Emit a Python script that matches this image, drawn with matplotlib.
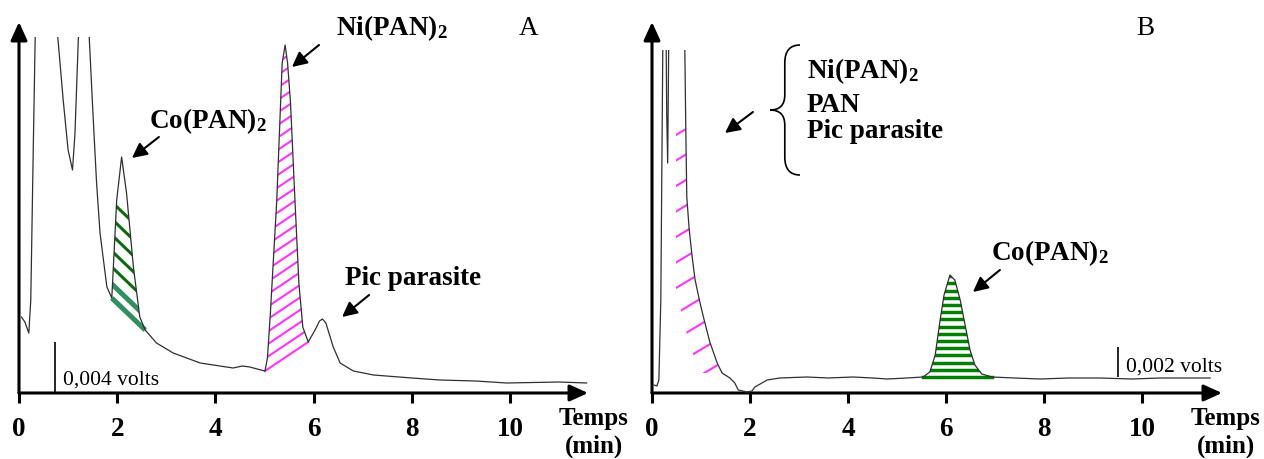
import matplotlib
matplotlib.use('Agg')
import matplotlib.pyplot as plt
import numpy as np
from matplotlib.patches import Rectangle, PathPatch
from matplotlib.path import Path

plt.rcParams['font.family'] = ['Liberation Serif', 'DejaVu Serif']
plt.rcParams['mathtext.fontset'] = 'custom'
plt.rcParams['mathtext.rm'] = 'Liberation Serif:bold'
plt.rcParams['mathtext.it'] = 'Liberation Serif:bold'
plt.rcParams['mathtext.bf'] = 'Liberation Serif:bold'

# chromatogram A (time in min, signal in arbitrary units)
time_a = [0.05, 0.12, 0.20, 0.24, 0.29, 0.33, 0.36, 0.55, 0.76, 0.79, 0.90, 1.00,
          1.09, 1.14, 1.21, 1.23, 1.32, 1.41, 1.43, 1.51, 1.58, 1.65, 1.79, 1.89,
          1.99, 2.09, 2.19, 2.33, 2.46, 2.57, 2.80, 3.14, 3.69, 4.36, 4.55, 4.70,
          4.85, 5.01, 5.06, 5.12, 5.25, 5.36, 5.42, 5.47, 5.53, 5.62, 5.70, 5.78,
          5.89, 6.03, 6.12, 6.18, 6.25, 6.40, 6.54, 6.81, 7.22, 8.00, 8.57, 9.30,
          9.93, 11.00, 11.56]
signal_a = [76, 71, 60, 93, 243, 356, 420, 600, 420, 356, 293, 243,
            223, 260, 356, 420, 600, 420, 356, 276, 210, 160, 106, 95,
            193, 236, 200, 126, 76, 63, 50, 40, 30, 25, 27, 26,
            24, 22, 35, 80, 193, 330, 348, 330, 290, 193, 110, 66,
            51, 63, 72, 74, 70, 46, 30, 22, 18, 15, 13, 12,
            10, 11, 10]

# chromatogram B
time_b = [0.04, 0.10, 0.14, 0.18, 0.22, 0.24, 0.27, 0.29, 0.30, 0.32, 0.34, 0.35,
          0.50, 0.66, 0.67, 0.69, 0.71, 0.76, 0.82, 0.88, 0.98, 1.08, 1.18, 1.33,
          1.43, 1.59, 1.69, 1.76, 1.94, 2.04, 2.10, 2.35, 2.61, 3.16, 3.60, 4.10,
          4.51, 4.80, 5.20, 5.53, 5.67, 5.78, 5.88, 5.96, 6.08, 6.18, 6.29, 6.39,
          6.49, 6.59, 6.73, 6.94, 7.40, 7.92, 8.50, 9.14, 9.80, 10.37, 11.39]
signal_b = [8, 7, 13, 93, 343, 420, 420, 343, 280, 230, 343, 420,
            600, 420, 343, 263, 196, 163, 136, 113, 90, 70, 51, 30,
            20, 15, 10, 3, 1, 2, 6, 13, 15, 16, 15, 16,
            15, 14, 15, 16, 21, 38, 73, 98, 118, 113, 93, 68,
            43, 28, 19, 16, 15, 14, 15, 15, 14, 15, 15]

ticks = [0, 2, 4, 6, 8, 10]
tick_labels = ['0', '2', '4', '6', '8', '10']

# integrated peaks (start, end) in min
co_peak_a = (1.89, 2.57)
ni_peak_a = (5.01, 5.89)
co_peak_b = (5.53, 6.94)
front_b = (0.67, 1.59)

INK = '#303030'
PINK = '#ff33ff'
DARKGREEN = '#0b6b0b'
SEAGREEN = '#2f9060'
GREEN = '#008000'

fig = plt.figure(figsize=(12.64, 4.59), dpi=100)
W, H = 1264.0, 459.0
ax_a = fig.add_axes([19 / W, 66 / H, 569 / W, 371 / H])
ax_b = fig.add_axes([652 / W, 66 / H, 570 / W, 371 / H])


def setup(ax, xmax):
    ax.set_xlim(0, xmax)
    ax.set_ylim(0, 371)
    ax.patch.set_visible(False)
    for sp in ax.spines.values():
        sp.set_visible(False)
    ax.set_yticks([])
    ax.set_xticks(ticks)
    ax.set_xticklabels(tick_labels, fontsize=19.5, fontweight='bold')
    ax.tick_params(axis='x', direction='out', length=7.5, width=2.2, pad=10)
    arrow = dict(arrowstyle='-|>,head_length=0.55,head_width=0.25', lw=2.2,
                 color='black', shrinkA=0, shrinkB=0, mutation_scale=20)
    ax.annotate('', xy=(1, 0), xytext=(0, 0), xycoords='axes fraction',
                arrowprops=arrow, annotation_clip=False)
    ax.annotate('', xy=(0, 1), xytext=(0, 0), xycoords='axes fraction',
                arrowprops=arrow, annotation_clip=False)


def trace(ax, t, s, top):
    ln, = ax.plot(t, s, color=INK, lw=0.9, zorder=5)
    ln.set_clip_path(Rectangle((-1, -10), 20, top + 10, transform=ax.transData))


def peak_path(t, s, t0, t1):
    t = np.asarray(t)
    s = np.asarray(s)
    m = (t >= t0) & (t <= t1)
    verts = np.column_stack([t[m], s[m]])
    verts = np.vstack([verts, verts[:1]])
    return Path(verts), verts[0], verts[-2]


def hatch(ax, path, p0, slope, offsets, t0, t1, **kw):
    tt = np.array([t0, t1])
    for off in offsets:
        ln, = ax.plot(tt, p0[1] + off + slope * (tt - p0[0]), zorder=3, **kw)
        ln.set_clip_path(path, ax.transData)


setup(ax_a, 569 / 49.1)
setup(ax_b, 570 / 49.0)
ppm_a = ax_a.bbox.width / ax_a.get_xlim()[1]
ppm_b = ax_b.bbox.width / ax_b.get_xlim()[1]

# ---- panel A ----
trace(ax_a, time_a, signal_a, 356)

path, p0, p1 = peak_path(time_a, signal_a, *ni_peak_a)
slope = (p1[1] - p0[1]) / (p1[0] - p0[0])
hatch(ax_a, path, p0, slope, np.arange(12.5, 340, 12.5), 4.8, 6.1, color=PINK, lw=1.5)
ax_a.plot([p0[0], p1[0]], [p0[1], p1[1]], color=PINK, lw=1.5, zorder=3)

path, p0, p1 = peak_path(time_a, signal_a, *co_peak_a)
slope = (p1[1] - p0[1]) / (p1[0] - p0[0])
hatch(ax_a, path, p0, slope, [31, 47, 63, 79, 96], 1.7, 2.8, color=DARKGREEN, lw=2.2)
hatch(ax_a, path, p0, slope, [14], 1.7, 2.8, color=SEAGREEN, lw=3.6)
ax_a.plot([p0[0], p1[0]], [p0[1], p1[1]], color=SEAGREEN, lw=3.6, zorder=3,
          solid_capstyle='butt')

ax_a.vlines(0.73, 0, 51, color='black', lw=1.2)
ax_a.text(0.90, 13, '0,004 volts', fontsize=15.5, va='center')

bold = dict(fontsize=19.5, fontweight='bold')
axis_title = dict(fontsize=18, fontweight='bold', ha='center', va='center')
ax_a.text(3.85, 265, 'Co(PAN)$_2$', ha='center', va='baseline', **bold)
ax_a.text(7.60, 358, 'Ni(PAN)$_2$', ha='center', va='baseline', **bold)
ax_a.text(8.02, 108, 'Pic parasite', ha='center', va='baseline', **bold)
ax_a.text(10.37, 358, 'A', ha='center', va='baseline', fontsize=19.5)
ax_a.text(11.71, -25, 'Temps', **axis_title)
ax_a.text(11.71, -53, '(min)', **axis_title)

arr = dict(arrowstyle='-|>,head_length=0.5,head_width=0.25', lw=1.5, color='black',
           shrinkA=0, shrinkB=0, mutation_scale=18)
ax_a.annotate('', xy=(2.30, 235), xytext=(2.85, 256), arrowprops=arr)
ax_a.annotate('', xy=(5.56, 326), xytext=(6.11, 348), arrowprops=arr, annotation_clip=False)
ax_a.annotate('', xy=(6.58, 76), xytext=(7.13, 98), arrowprops=arr)

# ---- panel B ----
trace(ax_b, time_b, signal_b, 343)

path, p0, p1 = peak_path(time_b, signal_b, *co_peak_b)
hatch(ax_b, path, p0, 0.0, np.arange(7.2, 110, 7.2), 5.4, 7.1, color=GREEN, lw=2.5)
ax_b.plot([p0[0], p1[0]], [p0[1], p1[1]], color=GREEN, lw=2.5, zorder=3)

# strip left of the descending front
tb = np.asarray(time_b)
sb = np.asarray(signal_b)
m = (tb >= front_b[0]) & (tb <= front_b[1])
s_grid = np.linspace(20, 275, 120)
right = np.interp(s_grid, sb[m][::-1], tb[m][::-1])
left = np.maximum(right - 21 / ppm_b, 0.49)
strip = Path(np.vstack([np.column_stack([right, s_grid]),
                        np.column_stack([left[::-1], s_grid[::-1]])]))
hatch(ax_b, strip, (1.0, 0.0), 0.6 * ppm_b, np.arange(-135, 275, 25.5), 0.3, 1.8,
      color=PINK, lw=1.5)

ax_b.vlines(9.51, 16, 46, color='black', lw=1.2)
ax_b.text(9.67, 21, '0,002 volts', fontsize=15.5, va='baseline')

ax_b.text(8.12, 133, 'Co(PAN)$_2$', ha='center', va='baseline', **bold)
ax_b.text(3.16, 315, 'Ni(PAN)$_2$', ha='left', va='baseline', **bold)
ax_b.text(3.16, 281, 'PAN', ha='left', va='baseline', **bold)
ax_b.text(3.16, 255, 'Pic parasite', ha='left', va='baseline', **bold)
ax_b.text(10.06, 358, 'B', ha='center', va='baseline', fontsize=19.5)
ax_b.text(11.71, -25, 'Temps', **axis_title)
ax_b.text(11.71, -53, '(min)', **axis_title)

ax_b.annotate('', xy=(1.49, 260), xytext=(2.06, 281), arrowprops=arr)
ax_b.annotate('', xy=(6.55, 101), xytext=(7.10, 123), arrowprops=arr)

brace = Path([(3.02, 348), (2.71, 348), (2.71, 330), (2.71, 298),
              (2.71, 283), (2.41, 283), (2.71, 283), (2.71, 268),
              (2.71, 236), (2.71, 218), (3.02, 218)],
             [Path.MOVETO, Path.CURVE3, Path.CURVE3, Path.LINETO,
              Path.CURVE3, Path.CURVE3, Path.CURVE3, Path.CURVE3,
              Path.LINETO, Path.CURVE3, Path.CURVE3])
ax_b.add_patch(PathPatch(brace, fill=False, lw=1.2, color='black', clip_on=False))

fig.savefig('out.png', dpi=100)
